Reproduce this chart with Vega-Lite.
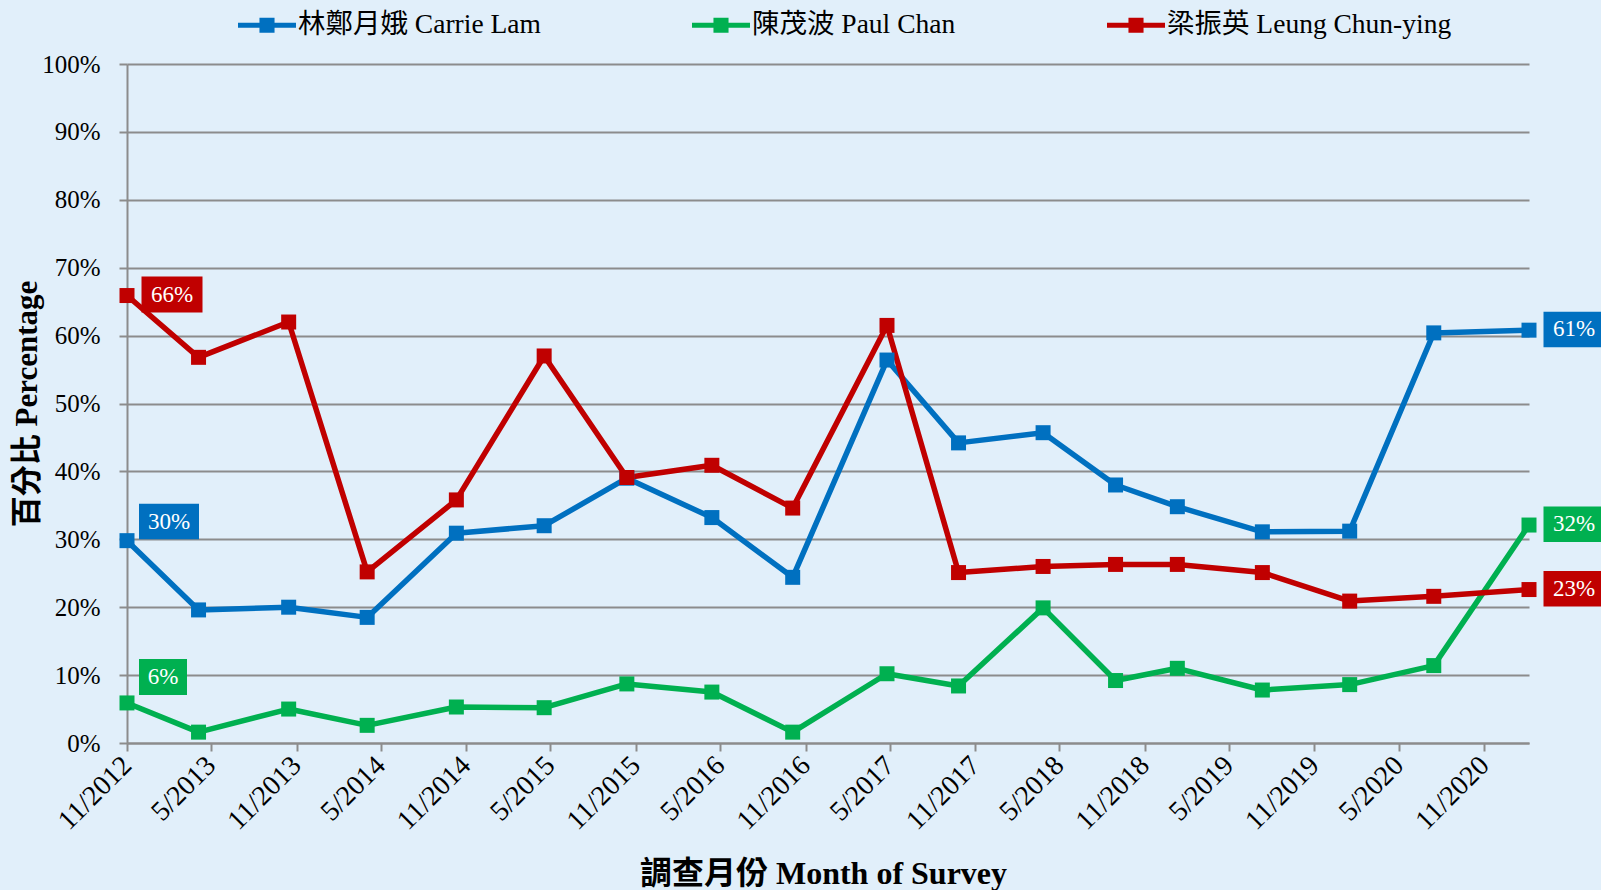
{
  "$schema": "https://vega.github.io/schema/vega-lite/v6.json",
  "width": 1402,
  "height": 679,
  "autosize": {"type": "none"},
  "padding": {"left": 127, "top": 64, "right": 72, "bottom": 147},
  "background": "#E1EFFA",
  "config": {
    "view": {"stroke": null},
    "font": "Liberation Serif, Noto Sans CJK TC",
    "axis": {
      "labelFont": "Liberation Serif, Noto Sans CJK TC",
      "titleFont": "Liberation Serif, Noto Sans CJK TC",
      "labelColor": "#000000",
      "titleColor": "#000000",
      "domainColor": "#8C8C8C",
      "domainWidth": 2,
      "tickColor": "#8C8C8C",
      "tickWidth": 2,
      "tickSize": 8,
      "gridColor": "#8C8C8C",
      "gridWidth": 2
    }
  },
  "data": {
    "values": [
      {"date": "2012-11-01", "series": "林鄭月娥 Carrie Lam", "value": 0.298},
      {"date": "2013-04-04", "series": "林鄭月娥 Carrie Lam", "value": 0.196},
      {"date": "2013-10-15", "series": "林鄭月娥 Carrie Lam", "value": 0.200},
      {"date": "2014-04-02", "series": "林鄭月娥 Carrie Lam", "value": 0.185},
      {"date": "2014-10-11", "series": "林鄭月娥 Carrie Lam", "value": 0.309},
      {"date": "2015-04-18", "series": "林鄭月娥 Carrie Lam", "value": 0.320},
      {"date": "2015-10-13", "series": "林鄭月娥 Carrie Lam", "value": 0.390},
      {"date": "2016-04-13", "series": "林鄭月娥 Carrie Lam", "value": 0.332},
      {"date": "2016-10-04", "series": "林鄭月娥 Carrie Lam", "value": 0.244},
      {"date": "2017-04-25", "series": "林鄭月娥 Carrie Lam", "value": 0.564},
      {"date": "2017-09-26", "series": "林鄭月娥 Carrie Lam", "value": 0.442},
      {"date": "2018-03-27", "series": "林鄭月娥 Carrie Lam", "value": 0.457},
      {"date": "2018-08-30", "series": "林鄭月娥 Carrie Lam", "value": 0.380},
      {"date": "2019-01-10", "series": "林鄭月娥 Carrie Lam", "value": 0.348},
      {"date": "2019-07-12", "series": "林鄭月娥 Carrie Lam", "value": 0.311},
      {"date": "2020-01-16", "series": "林鄭月娥 Carrie Lam", "value": 0.312},
      {"date": "2020-07-15", "series": "林鄭月娥 Carrie Lam", "value": 0.604},
      {"date": "2021-02-05", "series": "林鄭月娥 Carrie Lam", "value": 0.608},
      {"date": "2012-11-01", "series": "陳茂波 Paul Chan", "value": 0.059},
      {"date": "2013-04-04", "series": "陳茂波 Paul Chan", "value": 0.016},
      {"date": "2013-10-15", "series": "陳茂波 Paul Chan", "value": 0.050},
      {"date": "2014-04-02", "series": "陳茂波 Paul Chan", "value": 0.026},
      {"date": "2014-10-11", "series": "陳茂波 Paul Chan", "value": 0.053},
      {"date": "2015-04-18", "series": "陳茂波 Paul Chan", "value": 0.052},
      {"date": "2015-10-13", "series": "陳茂波 Paul Chan", "value": 0.087},
      {"date": "2016-04-13", "series": "陳茂波 Paul Chan", "value": 0.075},
      {"date": "2016-10-04", "series": "陳茂波 Paul Chan", "value": 0.016},
      {"date": "2017-04-25", "series": "陳茂波 Paul Chan", "value": 0.102},
      {"date": "2017-09-26", "series": "陳茂波 Paul Chan", "value": 0.084},
      {"date": "2018-03-27", "series": "陳茂波 Paul Chan", "value": 0.199},
      {"date": "2018-08-30", "series": "陳茂波 Paul Chan", "value": 0.092},
      {"date": "2019-01-10", "series": "陳茂波 Paul Chan", "value": 0.110},
      {"date": "2019-07-12", "series": "陳茂波 Paul Chan", "value": 0.078},
      {"date": "2020-01-16", "series": "陳茂波 Paul Chan", "value": 0.086},
      {"date": "2020-07-15", "series": "陳茂波 Paul Chan", "value": 0.114},
      {"date": "2021-02-05", "series": "陳茂波 Paul Chan", "value": 0.321},
      {"date": "2012-11-01", "series": "梁振英 Leung Chun-ying", "value": 0.659},
      {"date": "2013-04-04", "series": "梁振英 Leung Chun-ying", "value": 0.568},
      {"date": "2013-10-15", "series": "梁振英 Leung Chun-ying", "value": 0.620},
      {"date": "2014-04-02", "series": "梁振英 Leung Chun-ying", "value": 0.252},
      {"date": "2014-10-11", "series": "梁振英 Leung Chun-ying", "value": 0.358},
      {"date": "2015-04-18", "series": "梁振英 Leung Chun-ying", "value": 0.570},
      {"date": "2015-10-13", "series": "梁振英 Leung Chun-ying", "value": 0.391},
      {"date": "2016-04-13", "series": "梁振英 Leung Chun-ying", "value": 0.409},
      {"date": "2016-10-04", "series": "梁振英 Leung Chun-ying", "value": 0.346},
      {"date": "2017-04-25", "series": "梁振英 Leung Chun-ying", "value": 0.615},
      {"date": "2017-09-26", "series": "梁振英 Leung Chun-ying", "value": 0.251},
      {"date": "2018-03-27", "series": "梁振英 Leung Chun-ying", "value": 0.260},
      {"date": "2018-08-30", "series": "梁振英 Leung Chun-ying", "value": 0.263},
      {"date": "2019-01-10", "series": "梁振英 Leung Chun-ying", "value": 0.263},
      {"date": "2019-07-12", "series": "梁振英 Leung Chun-ying", "value": 0.251},
      {"date": "2020-01-16", "series": "梁振英 Leung Chun-ying", "value": 0.209},
      {"date": "2020-07-15", "series": "梁振英 Leung Chun-ying", "value": 0.216},
      {"date": "2021-02-05", "series": "梁振英 Leung Chun-ying", "value": 0.226}
    ]
  },
  "encoding": {
    "x": {
      "field": "date",
      "type": "temporal",
      "scale": {
        "type": "utc",
        "domain": [
          {"year": 2012, "month": 11, "date": 1, "utc": true},
          {"year": 2021, "month": 2, "date": 5, "utc": true}
        ]
      },
      "axis": {
        "values": [
          {"year": 2012, "month": 11, "date": 1, "utc": true},
          {"year": 2013, "month": 5, "date": 1, "utc": true},
          {"year": 2013, "month": 11, "date": 1, "utc": true},
          {"year": 2014, "month": 5, "date": 1, "utc": true},
          {"year": 2014, "month": 11, "date": 1, "utc": true},
          {"year": 2015, "month": 5, "date": 1, "utc": true},
          {"year": 2015, "month": 11, "date": 1, "utc": true},
          {"year": 2016, "month": 5, "date": 1, "utc": true},
          {"year": 2016, "month": 11, "date": 1, "utc": true},
          {"year": 2017, "month": 5, "date": 1, "utc": true},
          {"year": 2017, "month": 11, "date": 1, "utc": true},
          {"year": 2018, "month": 5, "date": 1, "utc": true},
          {"year": 2018, "month": 11, "date": 1, "utc": true},
          {"year": 2019, "month": 5, "date": 1, "utc": true},
          {"year": 2019, "month": 11, "date": 1, "utc": true},
          {"year": 2020, "month": 5, "date": 1, "utc": true},
          {"year": 2020, "month": 11, "date": 1, "utc": true}
        ],
        "format": "%-m/%Y",
        "labelAngle": -45,
        "labelAlign": "right",
        "labelBaseline": "middle",
        "labelFontSize": 28,
        "labelPadding": 10,
        "labelOverlap": false,
        "labelFlush": false,
        "labelBound": false,
        "grid": false,
        "title": "調查月份 Month of Survey",
        "titleFontSize": 32,
        "titleFontWeight": "bold",
        "titleX": 696,
        "titleY": 140,
        "titleBaseline": "alphabetic"
      }
    },
    "y": {
      "field": "value",
      "type": "quantitative",
      "scale": {"domain": [0, 1]},
      "axis": {
        "values": [0, 0.1, 0.2, 0.3, 0.4, 0.5, 0.6, 0.7, 0.8, 0.9, 1],
        "format": ".0%",
        "labelFontSize": 25,
        "labelPadding": 19,
        "grid": true,
        "title": "百分比 Percentage",
        "titleFontSize": 31,
        "titleFontWeight": "bold",
        "titleX": -100,
        "titleY": 339.5,
        "titleBaseline": "middle"
      }
    },
    "color": {
      "field": "series",
      "type": "nominal",
      "scale": {
        "domain": ["林鄭月娥 Carrie Lam", "陳茂波 Paul Chan", "梁振英 Leung Chun-ying"],
        "range": ["#0070C0", "#00B050", "#C00000"]
      },
      "legend": {
        "orient": "none",
        "legendX": 111,
        "legendY": -68,
        "direction": "horizontal",
        "title": null,
        "symbolType": "M-1,-0.09H1V0.09H-1Z M-0.26,-0.26H0.26V0.26H-0.26Z",
        "symbolSize": 3364,
        "symbolStrokeWidth": 0,
        "symbolOpacity": 1,
        "labelFontSize": 27.5,
        "labelFont": "Liberation Serif, Noto Sans CJK TC",
        "labelColor": "#000000",
        "labelOffset": 2,
        "labelLimit": 0,
        "columnPadding": 151,
        "padding": 0,
        "encode": {
          "symbols": {
            "update": {
              "fill": {"scale": "color", "field": "value"},
              "stroke": {"value": "transparent"},
              "opacity": {"value": 1}
            }
          }
        }
      }
    }
  },
  "layer": [
    {
      "mark": {"type": "line", "strokeWidth": 5.5, "strokeJoin": "round"}
    },
    {
      "mark": {"type": "point", "shape": "square", "filled": true, "size": 225, "opacity": 1}
    },
    {
      "transform": [{"filter": "utcyear(datum.date) == 2012 && datum.series == '梁振英 Leung Chun-ying'"}],
      "mark": {"type": "point", "shape": "M14.5,-19H75.5V17H14.5Z", "filled": true, "size": 4, "opacity": 1, "strokeWidth": 0}
    },
    {
      "transform": [{"filter": "utcyear(datum.date) == 2012 && datum.series == '林鄭月娥 Carrie Lam'"}],
      "mark": {"type": "point", "shape": "M12,-37H72V-1.5H12Z", "filled": true, "size": 4, "opacity": 1, "strokeWidth": 0}
    },
    {
      "transform": [{"filter": "utcyear(datum.date) == 2012 && datum.series == '陳茂波 Paul Chan'"}],
      "mark": {"type": "point", "shape": "M12,-44H60V-8H12Z", "filled": true, "size": 4, "opacity": 1, "strokeWidth": 0}
    },
    {
      "transform": [{"filter": "utcyear(datum.date) == 2021"}],
      "mark": {"type": "point", "shape": "M14.5,-18.5H78V17H14.5Z", "filled": true, "size": 4, "opacity": 1, "strokeWidth": 0}
    },
    {
      "transform": [{"filter": "utcyear(datum.date) == 2012 && datum.series == '梁振英 Leung Chun-ying'"}],
      "mark": {"type": "text", "align": "center", "baseline": "middle", "dx": 45, "dy": -1, "fontSize": 23, "font": "Liberation Serif", "fill": "#FFFFFF"},
      "encoding": {"text": {"field": "value", "type": "quantitative", "format": ".0%"}, "color": {"value": "#FFFFFF"}}
    },
    {
      "transform": [{"filter": "utcyear(datum.date) == 2012 && datum.series == '林鄭月娥 Carrie Lam'"}],
      "mark": {"type": "text", "align": "center", "baseline": "middle", "dx": 42, "dy": -19, "fontSize": 23, "font": "Liberation Serif", "fill": "#FFFFFF"},
      "encoding": {"text": {"field": "value", "type": "quantitative", "format": ".0%"}, "color": {"value": "#FFFFFF"}}
    },
    {
      "transform": [{"filter": "utcyear(datum.date) == 2012 && datum.series == '陳茂波 Paul Chan'"}],
      "mark": {"type": "text", "align": "center", "baseline": "middle", "dx": 36, "dy": -26, "fontSize": 23, "font": "Liberation Serif", "fill": "#FFFFFF"},
      "encoding": {"text": {"field": "value", "type": "quantitative", "format": ".0%"}, "color": {"value": "#FFFFFF"}}
    },
    {
      "transform": [{"filter": "utcyear(datum.date) == 2021"}],
      "mark": {"type": "text", "align": "center", "baseline": "middle", "dx": 45, "dy": -1, "fontSize": 23, "font": "Liberation Serif", "fill": "#FFFFFF"},
      "encoding": {"text": {"field": "value", "type": "quantitative", "format": ".0%"}, "color": {"value": "#FFFFFF"}}
    }
  ]
}
